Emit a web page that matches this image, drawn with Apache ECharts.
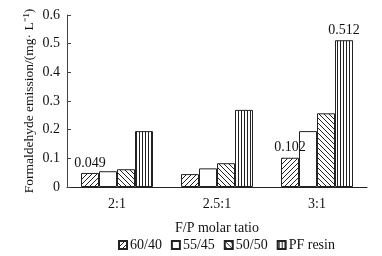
<!DOCTYPE html>
<html>
<head>
<meta charset="utf-8">
<script src="https://cdn.jsdelivr.net/npm/echarts@6/dist/echarts.min.js"></script>
<style>
    html, body { margin: 0; padding: 0; background: #fff; }
    #main { width: 382px; height: 256px; }
</style>
</head>
<body>
<div id="main"></div>
<script>
// 数据
var categories = ['2:1', '2.5:1', '3:1'];
var seriesNames = ['60/40', '55/45', '50/50', 'PF resin'];
var v6040 = [0.049, 0.045, 0.102];
var v5545 = [0.055, 0.065, 0.195];
var v5050 = [0.062, 0.083, 0.257];
var vPF = [0.195, 0.269, 0.512];
var yTicks = [0, 0.1, 0.2, 0.3, 0.4, 0.5, 0.6];

// 填充图案
function makePattern(type) {
    var n = type === 'v' ? 3 : 5;
    var c = document.createElement('canvas');
    c.width = n;
    c.height = n;
    var ctx = c.getContext('2d');
    ctx.fillStyle = '#fff';
    ctx.fillRect(0, 0, n, n);
    ctx.fillStyle = '#222';
    for (var x = 0; x < n; x++) {
        for (var y = 0; y < n; y++) {
            var on = false;
            if (type === '/') on = (x + y) % n === 0;
            if (type === '\\') on = ((x - y) % n + n) % n === 0;
            if (type === 'v') on = x === 1;
            if (on) ctx.fillRect(x, y, 1, 1);
        }
    }
    return { image: c, repeat: 'repeat' };
}

var fills = [makePattern('/'), '#fff', makePattern('\\'), makePattern('v')];
var valueSets = [v6040, v5545, v5050, vPF];
// 哪些柱子显示数值
var showLabel = [[true, false, true], [false, false, false], [false, false, false], [false, false, true]];

var font = '"Liberation Serif", "Times New Roman", serif';

var chartDom = document.getElementById('main');
var myChart = echarts.init(chartDom);

var series = seriesNames.map(function (name, i) {
    return {
        name: name,
        type: 'bar',
        barWidth: 18,
        barGap: '0%',
        itemStyle: {
            color: fills[i],
            borderColor: '#222',
            borderWidth: 1
        },
        label: {
            show: false,
            position: 'top',
            distance: 3,
            fontFamily: font,
            fontSize: 14,
            color: '#111'
        },
        data: valueSets[i].map(function (v, j) {
            return {
                value: v,
                label: { show: showLabel[i][j], formatter: String(v) }
            };
        })
    };
});

var option = {
    animation: false,
    textStyle: { fontFamily: font },
    grid: {
        left: 67,
        right: 15,
        top: 15,
        bottom: 69
    },
    legend: {
        data: seriesNames,
        top: 233,
        left: 113,
        itemWidth: 8,
        itemHeight: 8,
        itemGap: 9,
        textStyle: { fontFamily: font, fontSize: 14, color: '#111', padding: [0, 0, 0, -2] },
        icon: 'rect'
    },
    xAxis: {
        type: 'category',
        data: categories,
        name: 'F/P molar tatio',
        nameLocation: 'middle',
        nameGap: 34,
        nameMoveOverlap: false,
        nameTextStyle: { fontFamily: font, fontSize: 14, color: '#111' },
        axisLine: { lineStyle: { color: '#222', width: 1 } },
        axisTick: { inside: true, length: 4, lineStyle: { color: '#222' } },
        axisLabel: { fontFamily: font, fontSize: 14, color: '#111', margin: 10 }
    },
    yAxis: {
        type: 'value',
        min: yTicks[0],
        max: yTicks[yTicks.length - 1],
        interval: 0.1,
        name: 'Formaldehyde emission/(mg· L⁻¹)',
        nameLocation: 'middle',
        nameRotate: 90,
        nameGap: 31,
        nameMoveOverlap: false,
        nameTextStyle: { fontFamily: font, fontSize: 13.5, color: '#111' },
        splitLine: { show: false },
        axisLine: { show: true, lineStyle: { color: '#444', width: 1 } },
        axisTick: { show: true, inside: true, length: 4, lineStyle: { color: '#444' } },
        axisLabel: { fontFamily: font, fontSize: 14, color: '#111', margin: 7 }
    },
    series: series
};

option && myChart.setOption(option);
</script>
</body>
</html>
